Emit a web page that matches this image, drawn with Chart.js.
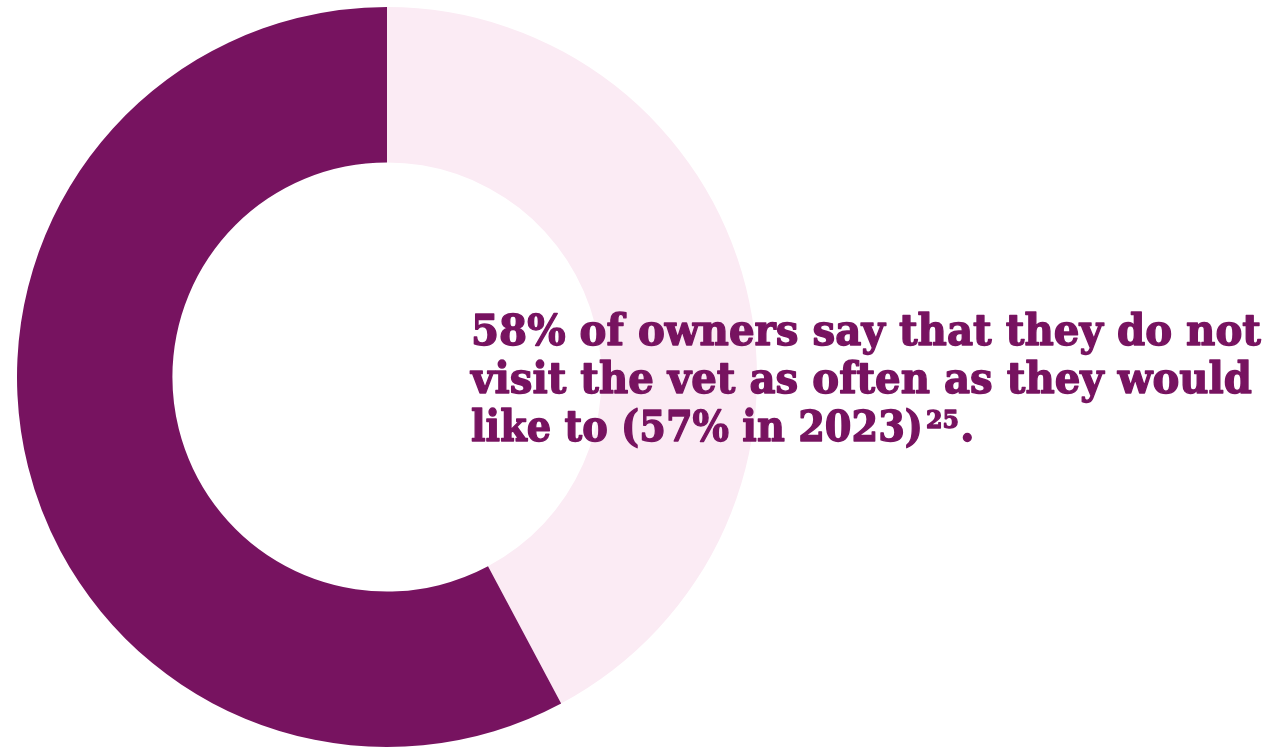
<!DOCTYPE html>
<html>
<head>
    <title>Vet visits</title>
    <script src="https://cdn.jsdelivr.net/npm/chart.js"></script>
    <style>
        html, body { margin: 0; padding: 0; background: #fff; }
        #wrap { width: 1270px; height: 751px; position: relative; }
    </style>
</head>
<body>
    <div id="wrap"><canvas id="donut"></canvas></div>
    <script>
        const labels = ['Visit as often as they would like', 'Do not visit as often as they would like'];
        const shares = [42.2, 57.8];
        const sliceColors = ['#fbebf4', '#771360'];
        const calloutLines = ['58% of owners say that they do not', 'visit the vet as often as they would', 'like to (57% in 2023)'];
        const footnote = '25';

        // draws the callout text to the right of the ring
        const calloutText = {
            id: 'calloutText',
            afterDraw(chart) {
                const ctx = chart.ctx;
                ctx.save();
                ctx.fillStyle = '#771360';
                ctx.strokeStyle = '#771360';
                ctx.lineWidth = 1.4;
                ctx.lineJoin = 'round';
                ctx.textBaseline = 'alphabetic';
                const baselines = [345, 393, 441];
                const widths = [790, 781, 452];
                ctx.font = 'bold 42px "DejaVu Serif"';
                calloutLines.forEach((line, i) => {
                    ctx.fillText(line, 471, baselines[i], widths[i]);
                    ctx.strokeText(line, 471, baselines[i], widths[i]);
                });
                ctx.font = 'bold 25px "DejaVu Serif"';
                ctx.fillText(footnote, 926, 428, 33);
                ctx.strokeText(footnote, 926, 428, 33);
                ctx.font = 'bold 42px "DejaVu Serif"';
                ctx.fillText('.', 960, 441);
                ctx.strokeText('.', 960, 441);
                ctx.restore();
            }
        };

        new Chart(document.getElementById('donut').getContext('2d'), {
            type: 'doughnut',
            data: {
                labels: labels,
                datasets: [{
                    data: shares,
                    backgroundColor: sliceColors,
                    borderWidth: 0
                }]
            },
            options: {
                responsive: true,
                maintainAspectRatio: false,
                animation: false,
                cutout: '58%',
                layout: { padding: { left: 17, top: 7, right: 513, bottom: 4 } },
                plugins: {
                    legend: { display: false },
                    tooltip: { enabled: false }
                }
            },
            plugins: [calloutText]
        });
    </script>
</body>
</html>
